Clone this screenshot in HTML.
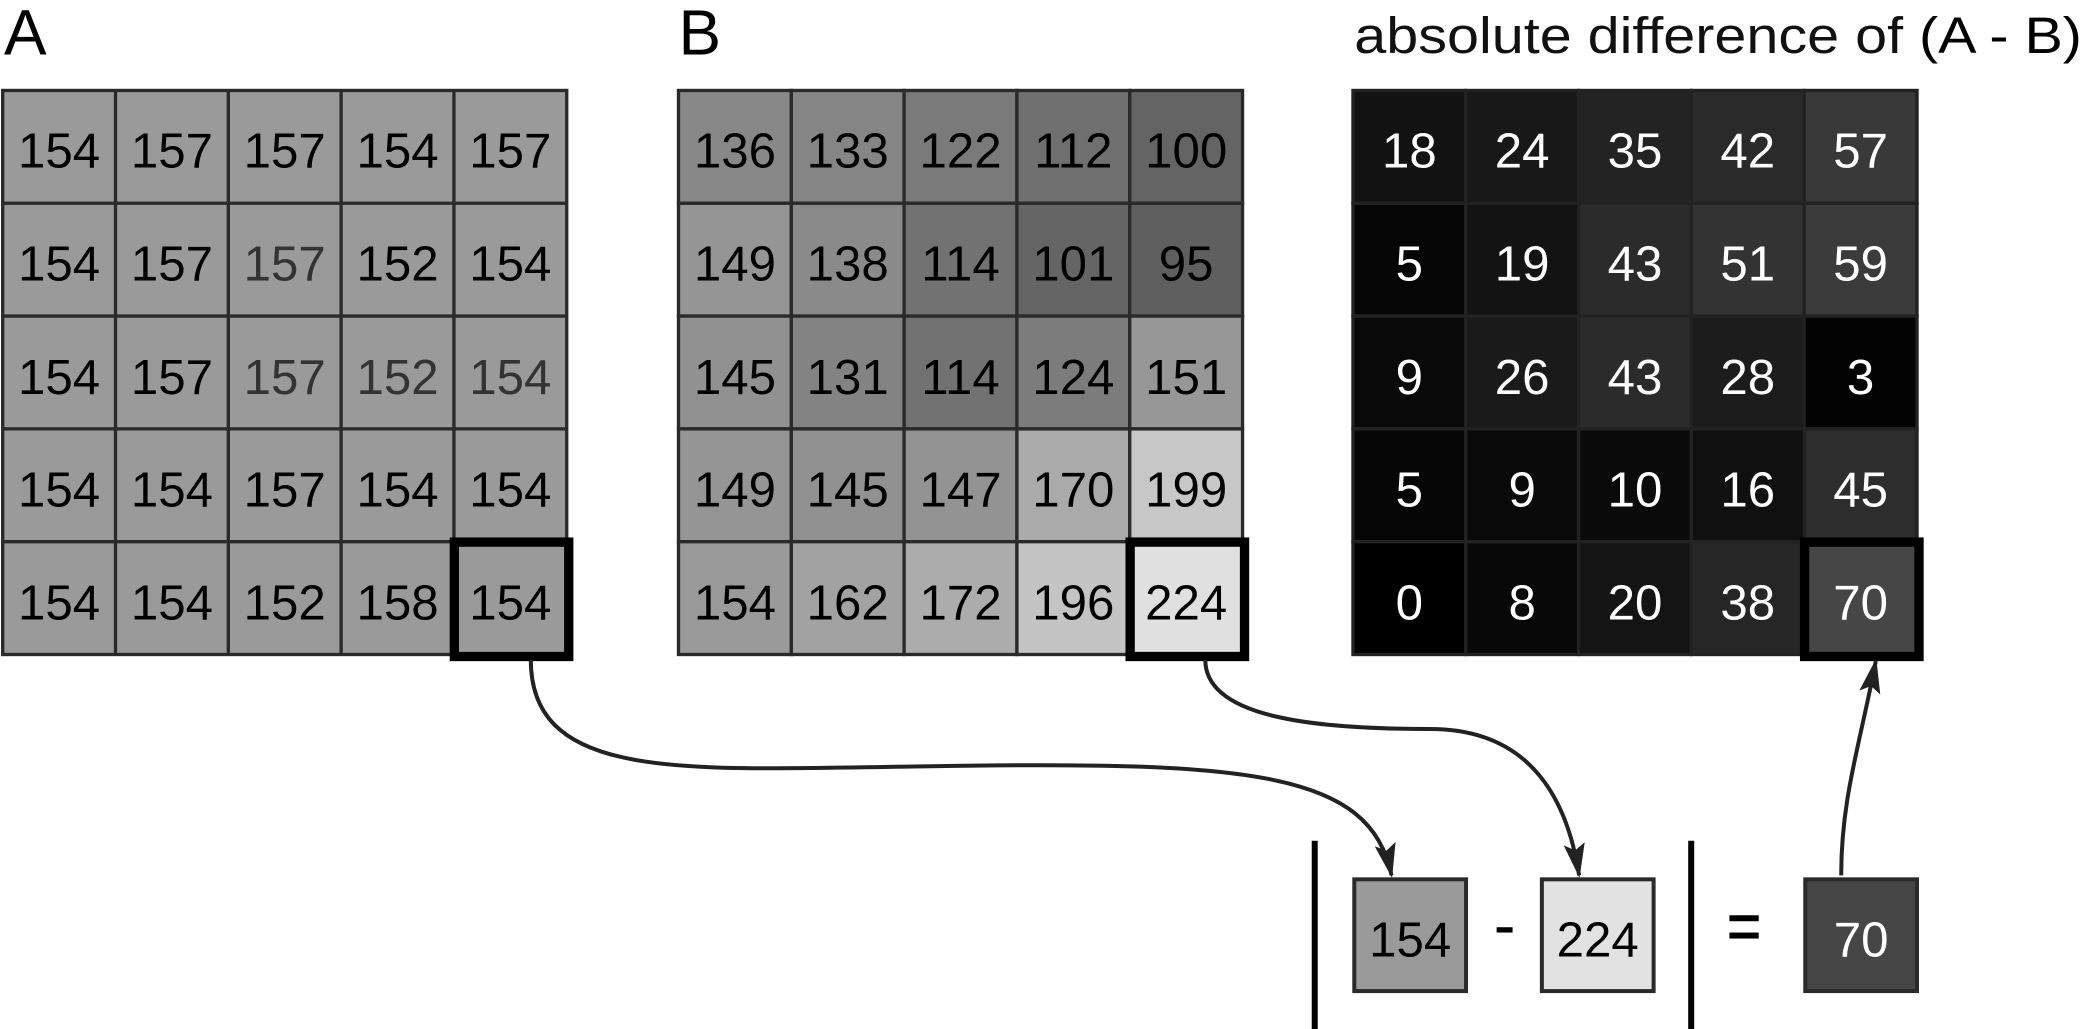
<!DOCTYPE html>
<html><head><meta charset="utf-8"><style>html,body{margin:0;padding:0;background:#fff}svg{display:block}</style></head>
<body>
<svg width="2086" height="1029" viewBox="0 0 1568 773.5" xmlns="http://www.w3.org/2000/svg" font-family="Liberation Sans, sans-serif">
<defs>
<marker id="ah2" markerWidth="26" markerHeight="16" refX="24" refY="8" orient="auto" markerUnits="userSpaceOnUse" viewBox="0 0 26 16">
<path d="M0,0 L26,8 L0,16 L5,8 Z" fill="#222"/>
</marker>
</defs>
<text x="3" y="41" font-size="48">A</text>
<text x="510" y="41" font-size="48">B</text>
<text x="1018" y="40" font-size="38" textLength="547" lengthAdjust="spacingAndGlyphs"><tspan fill="#111">absolute difference of </tspan><tspan fill="#000">(A - B)</tspan></text>

<!-- Grid A -->
<g transform="translate(2,68)" stroke="#2a2a2a" stroke-width="2.5">
<rect x="0" y="0" width="424" height="424" fill="#9a9a9a"/>
<path d="M84.8,0V424M169.6,0V424M254.4,0V424M339.2,0V424M0,84.8H424M0,169.6H424M0,254.4H424M0,339.2H424" fill="none"/>
<rect x="339.5" y="339.5" width="86" height="86" fill="none" stroke="#000" stroke-width="7"/>
</g>
<g transform="translate(2,71)" font-size="37" text-anchor="middle" fill="#000">
<text x="42.4" y="55">154</text><text x="127.2" y="55">157</text><text x="212" y="55">157</text><text x="296.8" y="55">154</text><text x="381.6" y="55">157</text>
<text x="42.4" y="140">154</text><text x="127.2" y="140">157</text><text x="212" y="140" fill="#333">157</text><text x="296.8" y="140">152</text><text x="381.6" y="140">154</text>
<text x="42.4" y="225">154</text><text x="127.2" y="225">157</text><text x="212" y="225" fill="#333">157</text><text x="296.8" y="225" fill="#333">152</text><text x="381.6" y="225" fill="#333">154</text>
<text x="42.4" y="309.8">154</text><text x="127.2" y="309.8">154</text><text x="212" y="309.8">157</text><text x="296.8" y="309.8">154</text><text x="381.6" y="309.8">154</text>
<text x="42.4" y="394.6">154</text><text x="127.2" y="394.6">154</text><text x="212" y="394.6">152</text><text x="296.8" y="394.6">158</text><text x="381.6" y="394.6">154</text>
</g>

<!-- Grid B -->
<g transform="translate(510,68)" stroke="#2a2a2a" stroke-width="2.5">
<rect x="0" y="0" width="84.8" height="84.8" fill="rgb(136,136,136)"/><rect x="84.8" y="0" width="84.8" height="84.8" fill="rgb(133,133,133)"/><rect x="169.6" y="0" width="84.8" height="84.8" fill="rgb(122,122,122)"/><rect x="254.4" y="0" width="84.8" height="84.8" fill="rgb(112,112,112)"/><rect x="339.2" y="0" width="84.8" height="84.8" fill="rgb(100,100,100)"/>
<rect x="0" y="84.8" width="84.8" height="84.8" fill="rgb(149,149,149)"/><rect x="84.8" y="84.8" width="84.8" height="84.8" fill="rgb(138,138,138)"/><rect x="169.6" y="84.8" width="84.8" height="84.8" fill="rgb(114,114,114)"/><rect x="254.4" y="84.8" width="84.8" height="84.8" fill="rgb(101,101,101)"/><rect x="339.2" y="84.8" width="84.8" height="84.8" fill="rgb(95,95,95)"/>
<rect x="0" y="169.6" width="84.8" height="84.8" fill="rgb(145,145,145)"/><rect x="84.8" y="169.6" width="84.8" height="84.8" fill="rgb(131,131,131)"/><rect x="169.6" y="169.6" width="84.8" height="84.8" fill="rgb(114,114,114)"/><rect x="254.4" y="169.6" width="84.8" height="84.8" fill="rgb(124,124,124)"/><rect x="339.2" y="169.6" width="84.8" height="84.8" fill="rgb(151,151,151)"/>
<rect x="0" y="254.4" width="84.8" height="84.8" fill="rgb(149,149,149)"/><rect x="84.8" y="254.4" width="84.8" height="84.8" fill="rgb(145,145,145)"/><rect x="169.6" y="254.4" width="84.8" height="84.8" fill="rgb(147,147,147)"/><rect x="254.4" y="254.4" width="84.8" height="84.8" fill="rgb(170,170,170)"/><rect x="339.2" y="254.4" width="84.8" height="84.8" fill="rgb(199,199,199)"/>
<rect x="0" y="339.2" width="84.8" height="84.8" fill="rgb(154,154,154)"/><rect x="84.8" y="339.2" width="84.8" height="84.8" fill="rgb(162,162,162)"/><rect x="169.6" y="339.2" width="84.8" height="84.8" fill="rgb(172,172,172)"/><rect x="254.4" y="339.2" width="84.8" height="84.8" fill="rgb(196,196,196)"/><rect x="339.2" y="339.2" width="84.8" height="84.8" fill="rgb(224,224,224)"/>
<rect x="339.5" y="339.5" width="86" height="86" fill="none" stroke="#000" stroke-width="7"/>
</g>
<g transform="translate(510,71)" font-size="37" text-anchor="middle" fill="#000">
<text x="42.4" y="55">136</text><text x="127.2" y="55">133</text><text x="212" y="55">122</text><text x="296.8" y="55">112</text><text x="381.6" y="55">100</text>
<text x="42.4" y="140">149</text><text x="127.2" y="140">138</text><text x="212" y="140">114</text><text x="296.8" y="140">101</text><text x="381.6" y="140">95</text>
<text x="42.4" y="225">145</text><text x="127.2" y="225">131</text><text x="212" y="225">114</text><text x="296.8" y="225">124</text><text x="381.6" y="225">151</text>
<text x="42.4" y="309.8">149</text><text x="127.2" y="309.8">145</text><text x="212" y="309.8">147</text><text x="296.8" y="309.8">170</text><text x="381.6" y="309.8">199</text>
<text x="42.4" y="394.6">154</text><text x="127.2" y="394.6">162</text><text x="212" y="394.6">172</text><text x="296.8" y="394.6">196</text><text x="381.6" y="394.6">224</text>
</g>

<!-- Grid C -->
<g transform="translate(1017,68)" stroke="#222" stroke-width="2.5">
<rect x="0" y="0" width="84.8" height="84.8" fill="rgb(18,18,18)"/><rect x="84.8" y="0" width="84.8" height="84.8" fill="rgb(24,24,24)"/><rect x="169.6" y="0" width="84.8" height="84.8" fill="rgb(35,35,35)"/><rect x="254.4" y="0" width="84.8" height="84.8" fill="rgb(42,42,42)"/><rect x="339.2" y="0" width="84.8" height="84.8" fill="rgb(57,57,57)"/>
<rect x="0" y="84.8" width="84.8" height="84.8" fill="rgb(5,5,5)"/><rect x="84.8" y="84.8" width="84.8" height="84.8" fill="rgb(19,19,19)"/><rect x="169.6" y="84.8" width="84.8" height="84.8" fill="rgb(43,43,43)"/><rect x="254.4" y="84.8" width="84.8" height="84.8" fill="rgb(51,51,51)"/><rect x="339.2" y="84.8" width="84.8" height="84.8" fill="rgb(59,59,59)"/>
<rect x="0" y="169.6" width="84.8" height="84.8" fill="rgb(9,9,9)"/><rect x="84.8" y="169.6" width="84.8" height="84.8" fill="rgb(26,26,26)"/><rect x="169.6" y="169.6" width="84.8" height="84.8" fill="rgb(43,43,43)"/><rect x="254.4" y="169.6" width="84.8" height="84.8" fill="rgb(28,28,28)"/><rect x="339.2" y="169.6" width="84.8" height="84.8" fill="rgb(3,3,3)"/>
<rect x="0" y="254.4" width="84.8" height="84.8" fill="rgb(5,5,5)"/><rect x="84.8" y="254.4" width="84.8" height="84.8" fill="rgb(9,9,9)"/><rect x="169.6" y="254.4" width="84.8" height="84.8" fill="rgb(10,10,10)"/><rect x="254.4" y="254.4" width="84.8" height="84.8" fill="rgb(16,16,16)"/><rect x="339.2" y="254.4" width="84.8" height="84.8" fill="rgb(45,45,45)"/>
<rect x="0" y="339.2" width="84.8" height="84.8" fill="rgb(0,0,0)"/><rect x="84.8" y="339.2" width="84.8" height="84.8" fill="rgb(8,8,8)"/><rect x="169.6" y="339.2" width="84.8" height="84.8" fill="rgb(20,20,20)"/><rect x="254.4" y="339.2" width="84.8" height="84.8" fill="rgb(38,38,38)"/><rect x="339.2" y="339.2" width="84.8" height="84.8" fill="rgb(70,70,70)"/>
<rect x="339.5" y="339.5" width="86" height="86" fill="none" stroke="#000" stroke-width="7"/>
</g>
<g transform="translate(1017,71)" font-size="37" text-anchor="middle" fill="#fff">
<text x="42.4" y="55">18</text><text x="127.2" y="55">24</text><text x="212" y="55">35</text><text x="296.8" y="55">42</text><text x="381.6" y="55">57</text>
<text x="42.4" y="140">5</text><text x="127.2" y="140">19</text><text x="212" y="140">43</text><text x="296.8" y="140">51</text><text x="381.6" y="140">59</text>
<text x="42.4" y="225">9</text><text x="127.2" y="225">26</text><text x="212" y="225">43</text><text x="296.8" y="225">28</text><text x="381.6" y="225">3</text>
<text x="42.4" y="309.8">5</text><text x="127.2" y="309.8">9</text><text x="212" y="309.8">10</text><text x="296.8" y="309.8">16</text><text x="381.6" y="309.8">45</text>
<text x="42.4" y="394.6">0</text><text x="127.2" y="394.6">8</text><text x="212" y="394.6">20</text><text x="296.8" y="394.6">38</text><text x="381.6" y="394.6">70</text>
</g>

<!-- connectors -->
<g fill="none" stroke="#222" stroke-width="3">
<path d="M399,496 C399,590 520,578 700,576 C940,572 1030,580 1046,658" marker-end="url(#ah2)"/>
<path d="M906,496 C906,540 990,548 1075,548 C1150,548 1178,600 1187,658" marker-end="url(#ah2)"/>
<path d="M1384,658 C1384,600 1398,560 1410,497" marker-end="url(#ah2)"/>
</g>

<!-- equation -->
<rect x="1018" y="661" width="84" height="84" fill="#9a9a9a" stroke="#2a2a2a" stroke-width="3"/>
<rect x="1159" y="661" width="84" height="84" fill="#e2e2e2" stroke="#2a2a2a" stroke-width="3"/>
<rect x="1357" y="661" width="84" height="84" fill="#464646" stroke="#2a2a2a" stroke-width="3"/>
<g font-size="37" text-anchor="middle">
<text x="1060" y="719">154</text>
<text x="1201" y="719">224</text>
<text x="1399" y="719" fill="#fff">70</text>
</g>
<rect x="1125" y="697" width="12" height="4" fill="#000"/>
<rect x="1300" y="688" width="22" height="4.5" fill="#000"/>
<rect x="1300" y="701" width="22" height="4.5" fill="#000"/>
<rect x="986" y="632" width="4.5" height="142" fill="#000"/>
<rect x="1269" y="632" width="4.5" height="142" fill="#000"/>
</svg>
</body></html>
